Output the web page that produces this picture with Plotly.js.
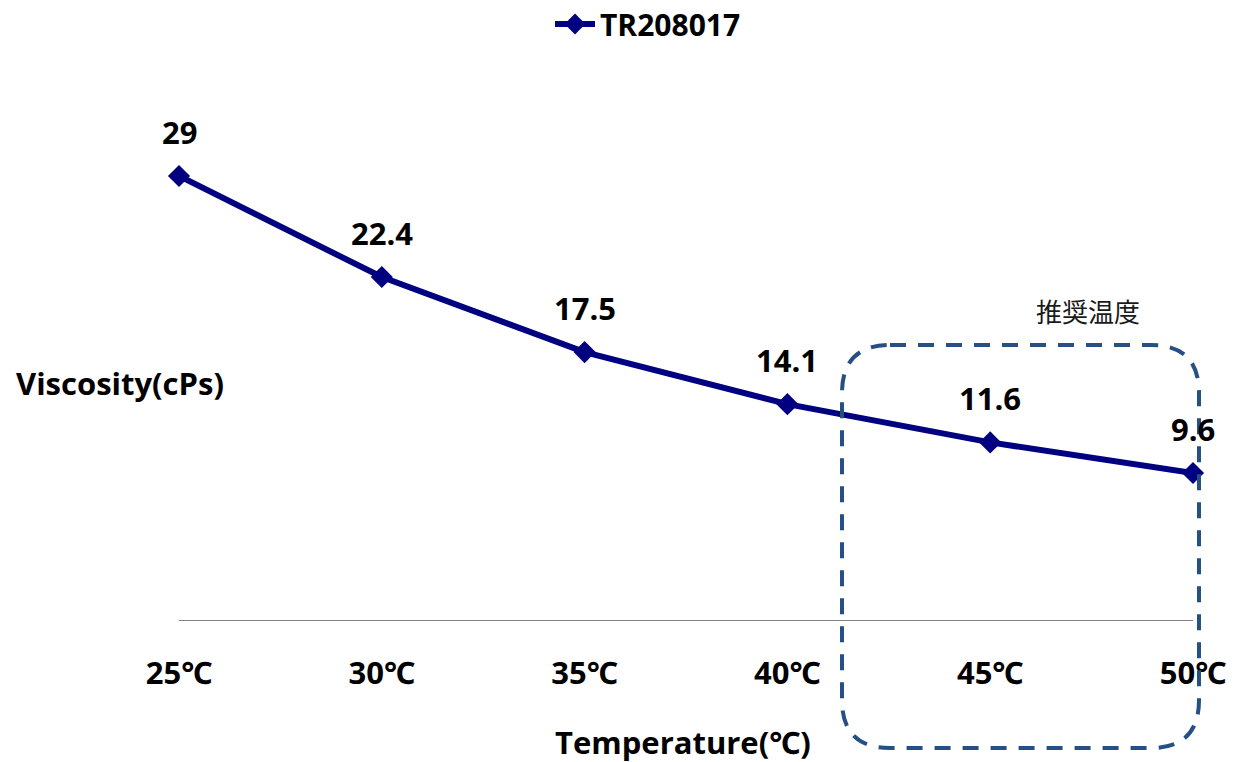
<!DOCTYPE html>
<html>
<head>
<meta charset="utf-8">
<script src="https://cdn.plot.ly/plotly-3.0.1.min.js"></script>
<style>html,body{margin:0;padding:0;background:#fff;}#chart{width:1242px;height:762px;}</style>
</head>
<body>
<div id="chart"></div>
<script>
const categories = ['25℃', '30℃', '35℃', '40℃', '45℃', '50℃'];
const viscosity = [29, 22.4, 17.5, 14.1, 11.6, 9.6];
const seriesName = 'TR208017';
const xTitle = 'Temperature(℃)';
const yTitle = 'Viscosity(cPs)';
const boxLabel = '推奨温度';

const W = 1242, H = 762;
const mL = 179, mR = 49, mT = 60, mB = 142;
const pw = W - mL - mR, ph = H - mT - mB;
const px = x => (x - mL) / pw;
const py = y => (H - mB - y) / ph;

// rounded dashed box (pixel geometry -> paper)
const L = 842, R = 1199, T = 345, B = 748, r = 48;
const p = (x, y) => px(x) + ',' + py(y);
const boxPath = 'M ' + p(L + r, T) + ' L ' + p(R - r, T) + ' Q ' + p(R, T) + ' ' + p(R, T + r) +
  ' L ' + p(R, B - r) + ' Q ' + p(R, B) + ' ' + p(R - r, B) +
  ' L ' + p(L + r, B) + ' Q ' + p(L, B) + ' ' + p(L, B - r) +
  ' L ' + p(L, T + r) + ' Q ' + p(L, T) + ' ' + p(L + r, T) + ' Z';

const font = '"Open Sans", "Noto Sans", "DejaVu Sans", sans-serif';

const trace = {
  x: categories, y: viscosity, type: 'scatter', mode: 'lines+markers', name: seriesName,
  line: {color: '#000080', width: 6},
  marker: {symbol: 'diamond', size: 17, color: '#000080'},
  cliponaxis: false
};

const labelAnns = categories.map((c, i) => ({
  x: c, y: viscosity[i], xref: 'x', yref: 'y', text: '<b>' + viscosity[i] + '</b>',
  xanchor: 'center', yanchor: 'middle',
  showarrow: false, yshift: 44, font: {family: font, size: 31, color: '#000'}
}));

const layout = {
  width: W, height: H,
  margin: {l: mL, r: mR, t: mT, b: mB, autoexpand: false},
  paper_bgcolor: '#fff', plot_bgcolor: '#fff',
  showlegend: true,
  legend: {orientation: 'h', x: px(550), xanchor: 'left', y: py(-2), yref: 'paper', yanchor: 'top',
    font: {family: font, size: 30, color: '#000', weight: 'bold'}, itemwidth: 40, bgcolor: 'rgba(0,0,0,0)'},
  xaxis: {
    type: 'category', range: [0, 5], showgrid: false, zeroline: false,
    showline: true, linecolor: '#808080', linewidth: 1,
    ticks: 'outside', ticklen: 26, tickcolor: 'rgba(0,0,0,0)',
    tickfont: {family: font, size: 31, color: '#000', weight: 'bold'}
  },
  yaxis: {
    range: [0, ph / 15.31], showgrid: false, zeroline: false, showline: false,
    showticklabels: false, ticks: ''
  },
  shapes: [{type: 'path', xref: 'paper', yref: 'paper', path: boxPath,
    line: {color: '#264f84', width: 4, dash: '16px,12px'}, fillcolor: 'rgba(0,0,0,0)'}],
  annotations: labelAnns.concat([
    {xref: 'paper', yref: 'paper', x: px(683), y: py(742), xanchor: 'center', yanchor: 'middle',
      text: '<b>' + xTitle + '</b>', showarrow: false,
      font: {family: font, size: 31, color: '#000'}},
    {xref: 'paper', yref: 'paper', x: px(120), y: py(383), xanchor: 'center', yanchor: 'middle',
      text: '<b>' + yTitle + '</b>', showarrow: false,
      font: {family: font, size: 31, color: '#000'}},
    {xref: 'paper', yref: 'paper', x: px(1088), y: py(310), xanchor: 'center', yanchor: 'middle',
      text: boxLabel, showarrow: false,
      font: {family: '"Noto Sans CJK JP", sans-serif', size: 26, color: '#1a1a1a'}}
  ])
};

Plotly.newPlot('chart', [trace], layout, {displayModeBar: false, staticPlot: true});
</script>
</body>
</html>
